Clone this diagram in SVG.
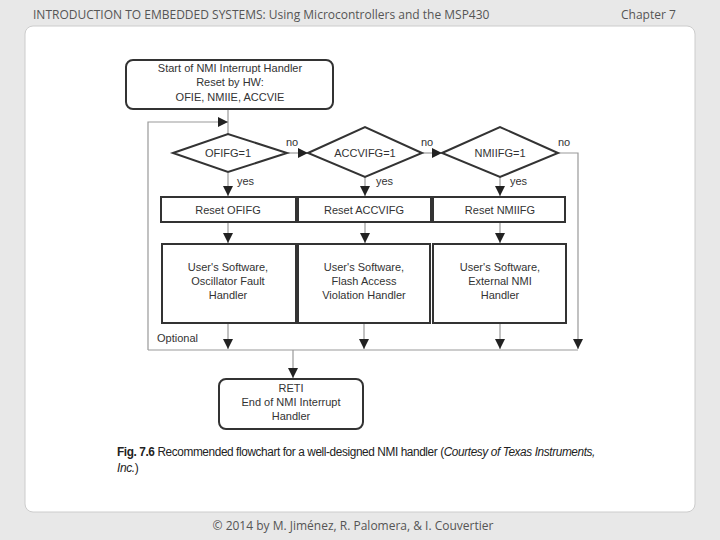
<svg xmlns="http://www.w3.org/2000/svg" width="720" height="540" viewBox="0 0 720 540">
<defs>
<marker id="ar" viewBox="0 0 10 10" refX="10" refY="5" markerWidth="10" markerHeight="10" markerUnits="userSpaceOnUse" orient="auto"><path d="M0,0L10,5L0,10z" fill="#222"/></marker>
<style>
.b{fill:#fff;stroke:#333;stroke-width:2}
.c{fill:none;stroke:#999;stroke-width:1.2}
.t{font-family:"Liberation Sans",Arial,sans-serif;font-size:11px;fill:#333;text-anchor:middle}
.l{font-family:"Liberation Sans",Arial,sans-serif;font-size:11px;fill:#333}
.h{font-family:"Open Sans","DejaVu Sans",sans-serif;font-size:12px;fill:#555}
.cap{font-family:"Liberation Sans",Arial,sans-serif;font-size:12px;fill:#222;letter-spacing:-0.4px}
</style>
</defs>
<rect width="720" height="540" fill="#e8e8e8"/>
<rect x="25" y="26" width="670" height="486" rx="8" fill="#fff" stroke="#ccc"/>
<text class="h" x="33" y="19">INTRODUCTION TO EMBEDDED SYSTEMS: Using Microcontrollers and the MSP430</text>
<text class="h" x="621" y="19">Chapter 7</text>
<text class="h" x="353" y="530" text-anchor="middle">© 2014 by M. Jiménez, R. Palomera, &amp; I. Couvertier</text>
<g id="connectors">
<path class="c" d="M228,109V134"/>
<path class="c" d="M148,350V122H228" marker-end="url(#ar)"/>
<path class="c" d="M288,153H308" marker-end="url(#ar)"/>
<path class="c" d="M423,153H442" marker-end="url(#ar)"/>
<path class="c" d="M558,153H578V349" marker-end="url(#ar)"/>
<path class="c" d="M228,173V196" marker-end="url(#ar)"/>
<path class="c" d="M365,177V196" marker-end="url(#ar)"/>
<path class="c" d="M500,177V196" marker-end="url(#ar)"/>
<path class="c" d="M228,222V243" marker-end="url(#ar)"/>
<path class="c" d="M365,222V243" marker-end="url(#ar)"/>
<path class="c" d="M500,222V243" marker-end="url(#ar)"/>
<path class="c" d="M228,323V349" marker-end="url(#ar)"/>
<path class="c" d="M364,323V349" marker-end="url(#ar)"/>
<path class="c" d="M500,323V349" marker-end="url(#ar)"/>
<path class="c" d="M148,350H578"/>
<path class="c" d="M293,350V378" stroke="#333" marker-end="url(#ar)"/>
<text class="l" x="286" y="146">no</text>
<text class="l" x="421" y="146">no</text>
<text class="l" x="558" y="146">no</text>
<text class="l" x="237" y="185">yes</text>
<text class="l" x="376" y="185">yes</text>
<text class="l" x="510" y="185">yes</text>
<text class="l" x="157" y="342">Optional</text>
</g>
<g id="start"><rect class="b" x="126" y="60" width="207" height="49" rx="7"/>
<text class="t" x="230" y="72">Start of NMI Interrupt Handler</text>
<text class="t" x="230" y="86">Reset by HW:</text>
<text class="t" x="230" y="101">OFIE, NMIIE, ACCVIE</text></g>
<g id="d1"><path class="b" d="M173,153L228,134L287,153L228,172z"/><text class="t" x="228" y="157">OFIFG=1</text></g>
<g id="d2"><path class="b" d="M308,153L365,127L422,153L365,177z"/><text class="t" x="365" y="157">ACCVIFG=1</text></g>
<g id="d3"><path class="b" d="M442,153L500,127L558,153L500,177z"/><text class="t" x="500" y="157">NMIIFG=1</text></g>
<g id="r1"><rect class="b" x="161" y="197" width="135" height="25"/><text class="t" x="228" y="214">Reset OFIFG</text></g>
<g id="r2"><rect class="b" x="298" y="197" width="133" height="25"/><text class="t" x="364" y="214">Reset ACCVIFG</text></g>
<g id="r3"><rect class="b" x="433" y="197" width="132" height="25"/><text class="t" x="500" y="214">Reset NMIIFG</text></g>
<g id="s1"><rect class="b" x="162" y="244" width="134" height="79"/><text class="t" x="228" y="271">User's Software,</text><text class="t" x="228" y="285">Oscillator Fault</text><text class="t" x="228" y="299">Handler</text></g>
<g id="s2"><rect class="b" x="298" y="244" width="132" height="79"/><text class="t" x="364" y="271">User's Software,</text><text class="t" x="364" y="285">Flash Access</text><text class="t" x="364" y="299">Violation Handler</text></g>
<g id="s3"><rect class="b" x="433" y="244" width="133" height="79"/><text class="t" x="500" y="271">User's Software,</text><text class="t" x="500" y="285">External NMI</text><text class="t" x="500" y="299">Handler</text></g>
<g id="end"><rect class="b" x="219" y="379" width="144" height="50" rx="7"/>
<text class="t" x="291" y="392">RETI</text><text class="t" x="291" y="406">End of NMI Interrupt</text><text class="t" x="291" y="420">Handler</text></g>
<text class="cap" x="117" y="456" textLength="478" lengthAdjust="spacingAndGlyphs"><tspan font-weight="bold">Fig. 7.6</tspan>  Recommended flowchart for a well-designed NMI handler (<tspan font-style="italic">Courtesy of Texas Instruments,</tspan></text>
<text class="cap" x="117" y="472"><tspan font-style="italic">Inc.</tspan>)</text>
</svg>
